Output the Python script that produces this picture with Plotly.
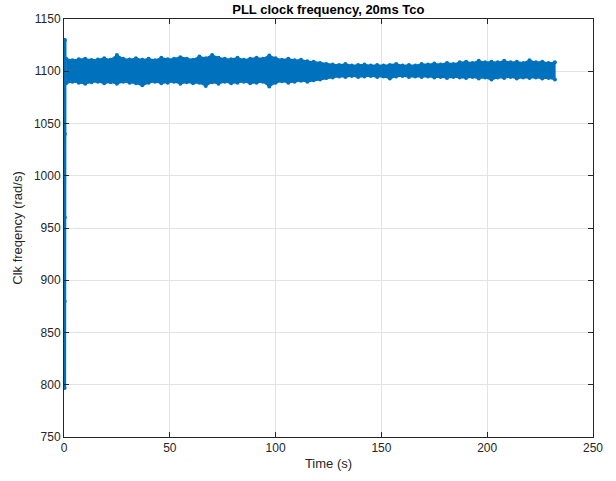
import plotly.graph_objects as go

# Envelope of the dense clock-frequency trace
time_s = [1, 4, 7, 10, 13, 16, 19, 22, 25, 28,
          31, 34, 37, 40, 43, 46, 49, 52, 55, 58,
          61, 64, 67, 70, 73, 76, 79, 82, 85, 88,
          91, 94, 97, 100, 103, 106, 109, 112, 115, 118,
          121, 124, 127, 130, 133, 136, 139, 142, 145, 148,
          151, 154, 157, 160, 163, 166, 169, 172, 175, 178,
          181, 184, 187, 190, 193, 196, 199, 202, 205, 208,
          211, 214, 217, 220, 223, 226, 229, 232]
freq_upper = [1112, 1110.5, 1111.5, 1112, 1110.8, 1111.2, 1112.5, 1111, 1115.5, 1112,
              1111.3, 1112.5, 1111, 1112, 1110.5, 1113, 1111.5, 1112, 1113.5, 1112,
              1111, 1114, 1112.5, 1115.5, 1113, 1112, 1111.5, 1112.8, 1111, 1112,
              1113, 1112, 1115, 1112.5, 1111, 1112, 1110.5, 1111, 1109.5, 1109,
              1108, 1107, 1106.5, 1106, 1107, 1105.5, 1106, 1106.5, 1105.5, 1106,
              1105.5, 1106, 1107, 1105.5, 1106, 1105.5, 1107, 1106.5, 1107.5, 1106.5,
              1108, 1107, 1108.5, 1109, 1108, 1110, 1108.5, 1109, 1108.5, 1110,
              1108.5, 1109, 1108, 1110.5, 1108.5, 1109, 1108, 1108.5]
freq_lower = [1088.5, 1090, 1089, 1088, 1089.5, 1090, 1088.5, 1089.5, 1088, 1090,
              1089, 1088.5, 1086.5, 1089, 1090, 1088.5, 1089, 1090, 1088, 1089.5,
              1088.5, 1089, 1086, 1089.5, 1088, 1090, 1088.5, 1089, 1090, 1088.5,
              1089, 1090, 1085.5, 1089, 1090.5, 1089, 1090, 1091, 1090, 1091.5,
              1092, 1093.5, 1094, 1095, 1094.5, 1095.5, 1094.5, 1095, 1095.5, 1094.5,
              1095, 1093, 1095, 1095.5, 1094.5, 1095, 1094.5, 1095, 1094, 1094.5,
              1093.5, 1094.5, 1094, 1093.5, 1094.5, 1093, 1094, 1092, 1094, 1093.5,
              1094.5, 1093, 1094, 1093.5, 1094, 1093, 1093.5, 1092]

# Start-up transient
trans_t = [0.3, 0.3, 0.35, 0.4, 0.45, 0.5]
trans_f = [797, 880, 960, 1040, 1130, 1095]

x_ticks = [0, 50, 100, 150, 200, 250]
y_ticks = [750, 800, 850, 900, 950, 1000, 1050, 1100, 1150]

BLUE = "#0072BD"
AX = "#262626"
FONT = "Liberation Sans, Arial, Helvetica, sans-serif"

fig = go.Figure()
fig.add_trace(go.Scatter(
    x=time_s + time_s[::-1],
    y=freq_upper + freq_lower[::-1],
    fill="toself", fillcolor=BLUE, mode="lines+markers",
    line=dict(color=BLUE, width=1.5), marker=dict(color=BLUE, size=4),
    hoverinfo="skip", showlegend=False))
fig.add_trace(go.Scatter(
    x=trans_t, y=trans_f, mode="lines+markers",
    line=dict(color=BLUE, width=3), marker=dict(color=BLUE, size=4),
    showlegend=False))

axis_common = dict(
    showline=True, linecolor=AX, linewidth=1, mirror="ticks",
    ticks="inside", ticklen=5, tickcolor=AX, showgrid=True,
    gridcolor="#e3e3e3", gridwidth=1, zeroline=False,
    tickfont=dict(family=FONT, size=12, color=AX))

fig.update_xaxes(range=[0, 250], tickvals=x_ticks,
                 title=dict(text="Time (s)", font=dict(family=FONT, size=13, color=AX), standoff=4),
                 **axis_common)
fig.update_yaxes(range=[750, 1150], tickvals=y_ticks,
                 title=dict(text="Clk freqency (rad/s)", font=dict(family=FONT, size=13, color=AX), standoff=8),
                 **axis_common)

fig.update_layout(
    width=616, height=481,
    margin=dict(l=64, r=23, t=19, b=44),
    paper_bgcolor="white", plot_bgcolor="white",
    title=dict(text="<b>PLL clock frequency, 20ms Tco</b>",
               font=dict(family=FONT, size=13, color="black"),
               x=0.533, xanchor="center", y=1 - 9 / 481, yanchor="middle", yref="container"),
)

fig.write_html("out.html")
